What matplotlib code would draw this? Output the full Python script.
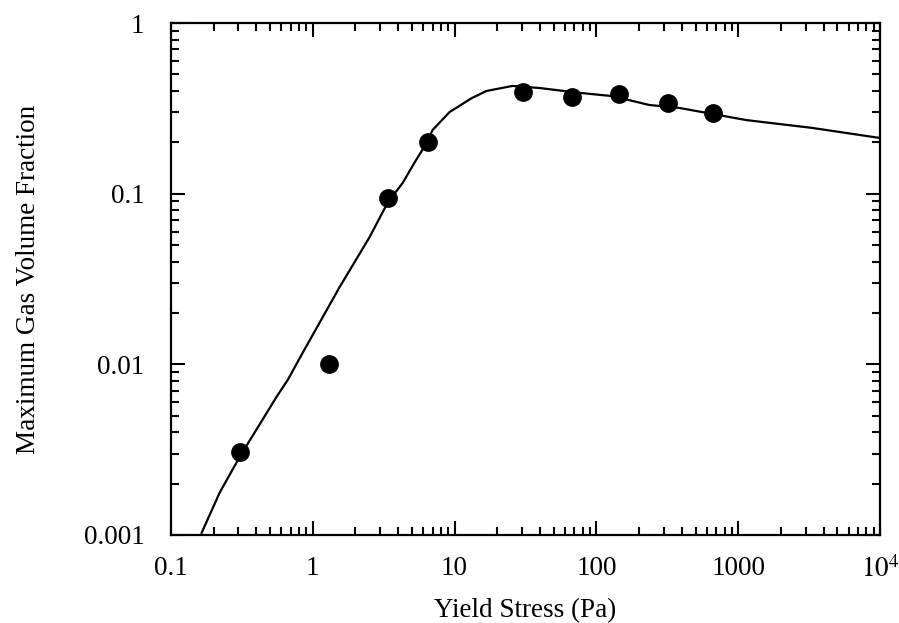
import matplotlib
matplotlib.use("Agg")
import matplotlib.pyplot as plt
from matplotlib.ticker import LogLocator, FixedLocator, FixedFormatter, NullFormatter

# model curve
curve_x = [0.165, 0.221, 0.306, 0.557, 0.667, 0.851, 1.55, 2.52, 3.37,
           4.31, 5.22, 6.35, 7.0, 9.23, 13.2, 16.8, 25.6, 40.0, 52.0, 75.9,
           130, 236, 385, 1140, 3310, 10000]
curve_y = [0.00103, 0.00177, 0.00287, 0.00646, 0.0081, 0.0117, 0.0284,
           0.0557, 0.0883, 0.1156, 0.152, 0.198, 0.236, 0.301, 0.363, 0.40,
           0.428, 0.416, 0.405, 0.39, 0.373, 0.331, 0.318, 0.27, 0.243, 0.212]

# measured points
pts_x = [0.306, 1.30, 3.38, 6.45, 30.6, 67.8, 145, 321, 667]
pts_y = [0.00307, 0.0100, 0.094, 0.201, 0.394, 0.368, 0.384, 0.34, 0.297]

xticks = [0.1, 1, 10, 100, 1000, 10000]
xtick_labels = ["0.1", "1", "10", "100", "1000", r"$10^4$"]
yticks = [0.001, 0.01, 0.1, 1]
ytick_labels = ["0.001", "0.01", "0.1", "1"]

plt.rcParams['font.family'] = ['Liberation Serif', 'DejaVu Serif']
plt.rcParams['mathtext.fontset'] = 'stix'

fig = plt.figure(figsize=(8.99, 6.23), dpi=100)
ax = fig.add_axes([0.190, 0.1413, 0.789, 0.8217])

ax.plot(curve_x, curve_y, color='black', lw=1.6)
ax.plot(pts_x, pts_y, 'o', color='black', markersize=12.5, ls='none')

ax.set_xscale('log')
ax.set_yscale('log')
ax.set_xlim(0.1, 10000)
ax.set_ylim(0.001, 1)

ax.xaxis.set_major_locator(FixedLocator(xticks))
ax.xaxis.set_major_formatter(FixedFormatter(xtick_labels))
ax.yaxis.set_major_locator(FixedLocator(yticks))
ax.yaxis.set_major_formatter(FixedFormatter(ytick_labels))
ax.xaxis.set_minor_locator(LogLocator(base=10, subs=range(2, 10), numticks=20))
ax.yaxis.set_minor_locator(LogLocator(base=10, subs=range(2, 10), numticks=20))
ax.xaxis.set_minor_formatter(NullFormatter())
ax.yaxis.set_minor_formatter(NullFormatter())

ax.tick_params(which='both', direction='in', top=True, right=True,
               width=1.5, labelsize=19.5, colors='black')
ax.tick_params(which='major', length=10)
ax.tick_params(which='minor', length=5.5)
ax.tick_params(axis='x', which='major', pad=15)
ax.tick_params(axis='y', which='major', pad=19)
for s in ax.spines.values():
    s.set_linewidth(1.6)

ax.set_xlabel('Yield Stress (Pa)', fontsize=19.5, labelpad=11)
ax.set_ylabel('Maximum Gas Volume Fraction', fontsize=19.5, labelpad=31)

fig.savefig('out.png', dpi=100)
